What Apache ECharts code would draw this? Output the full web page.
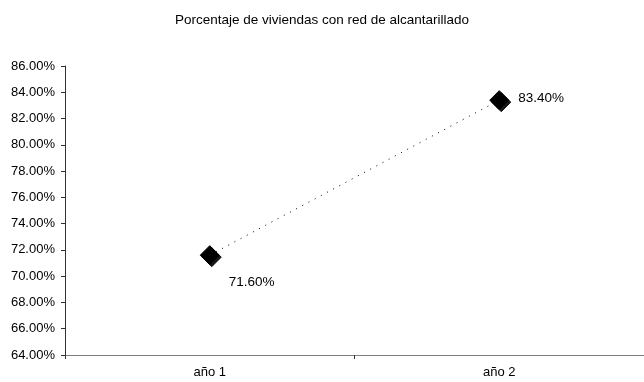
<!DOCTYPE html>
<html>
<head>
<meta charset="utf-8">
<script src="https://cdn.jsdelivr.net/npm/echarts@6/dist/echarts.min.js"></script>
<style>
  html, body { margin: 0; padding: 0; background: #ffffff; }
  #chart { width: 644px; height: 382px; }
</style>
</head>
<body>
<div id="chart"></div>
<script>
// Coverage of the sewer network, by year
const chartTitle = 'Porcentaje de viviendas con red de alcantarillado';
const categories = ['año 1', 'año 2'];
const coverage = [71.6, 83.4];
const yMin = 64, yMax = 86, yStep = 2;

const FONT = '"Liberation Sans", Arial, sans-serif';
const fmt = v => v.toFixed(2) + '%';

const labelOffsets = [[4, 27], [4, -2]];

const chart = echarts.init(document.getElementById('chart'), null, { renderer: 'canvas' });
chart.setOption({
  backgroundColor: '#ffffff',
  animation: false,
  title: {
    text: chartTitle,
    left: 'center',
    top: 8,
    textStyle: { fontFamily: FONT, fontSize: 13.5, fontWeight: 'normal', color: '#000' }
  },
  grid: { left: 65, top: 66, width: 586, height: 289, containLabel: false },
  xAxis: {
    type: 'category',
    data: categories,
    boundaryGap: true,
    axisLine: { lineStyle: { color: '#808080', width: 1 } },
    axisTick: { show: true, length: 4, lineStyle: { color: '#333' } },
    axisLabel: { fontFamily: FONT, fontSize: 13, color: '#000', margin: 11 },
    splitLine: { show: false }
  },
  yAxis: {
    type: 'value',
    min: yMin,
    max: yMax,
    interval: yStep,
    axisLine: { show: true, lineStyle: { color: '#333', width: 1 } },
    axisTick: { show: true, length: 4, lineStyle: { color: '#333' } },
    axisLabel: { fontFamily: FONT, fontSize: 13, color: '#000', margin: 10, formatter: fmt },
    splitLine: { show: false }
  },
  series: [{
    type: 'line',
    data: coverage.map((v, i) => ({
      value: v,
      label: { offset: labelOffsets[i] }
    })),
    symbol: 'diamond',
    symbolSize: 19,
    itemStyle: {
      color: '#000',
      borderColor: '#000',
      shadowColor: 'rgba(0,0,0,0.9)',
      shadowOffsetX: 2,
      shadowOffsetY: 2,
      shadowBlur: 0
    },
    lineStyle: { color: '#000', width: 1, type: [1, 6] },
    label: {
      show: true,
      position: 'right',
      distance: 5,
      fontFamily: FONT,
      fontSize: 13.5,
      color: '#000',
      formatter: p => fmt(p.value)
    },
    emphasis: { disabled: true }
  }]
});
</script>
</body>
</html>
